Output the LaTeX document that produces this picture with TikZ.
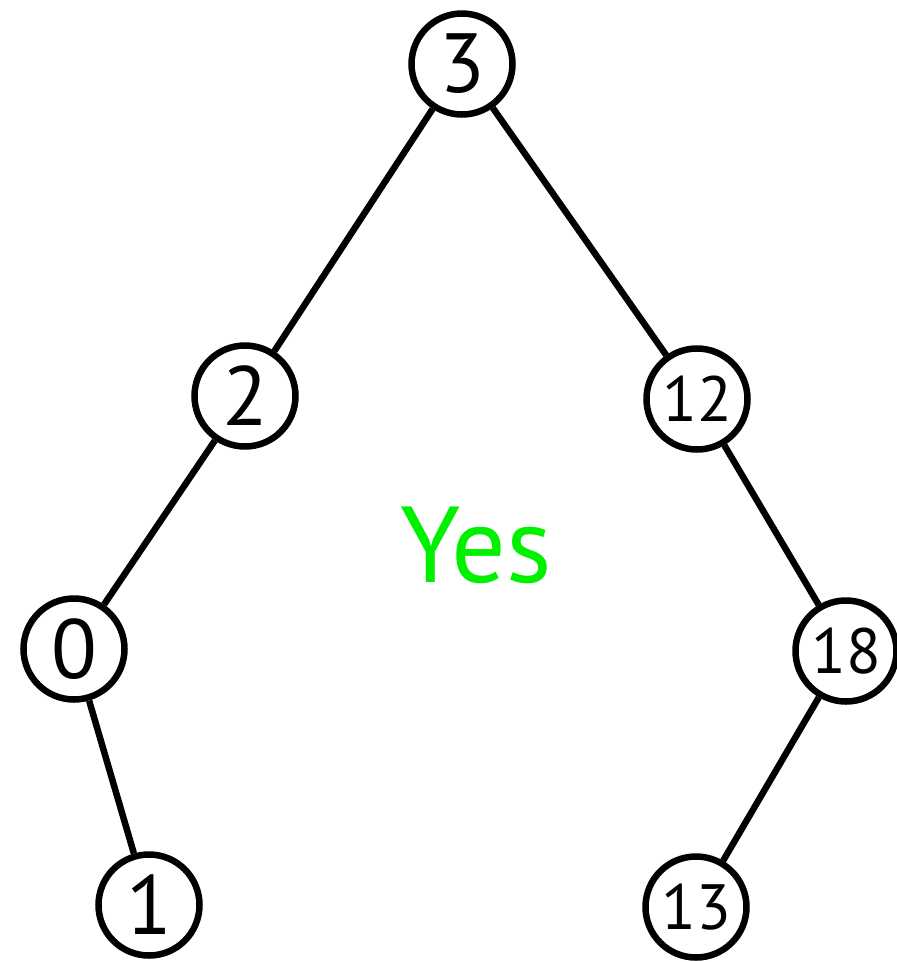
\documentclass[tikz,border=0pt]{standalone}
\usepackage{fontspec}
\setmainfont{PT Sans}
\usepackage{tikz}
\definecolor{yesgreen}{RGB}{0,240,0}

\begin{document}
\begin{tikzpicture}[
    x=1pt, y=-1pt,
    vertex/.style={draw, circle, line width=6.5pt, minimum size=101pt, inner sep=0pt, fill=white},
    onedigit/.style={vertex, font=\fontsize{84}{90}\selectfont},
    twodigit/.style={vertex, font=\fontsize{64}{70}\selectfont},
    edge/.style={line width=6.5pt, draw=black}
]
\useasboundingbox (0,0) rectangle (897,962);
\node[onedigit] (three) at (462,64) {3};
\node[onedigit] (two) at (245,396) {2};
\node[twodigit] (twelve) at (697,399) {12};
\node[onedigit] (zero) at (74,649) {0};
\node[twodigit] (eighteen) at (846,651) {18};
\node[onedigit] (one) at (149,905) {1};
\node[twodigit] (thirteen) at (696,907) {13};
\node[text=yesgreen, font=\fontsize{108}{120}\selectfont] (answer) at (476,545) {Yes};

\draw[edge] (three) -- (two);
\draw[edge] (three) -- (twelve);
\draw[edge] (two) -- (zero);
\draw[edge] (zero) -- (one);
\draw[edge] (twelve) -- (eighteen);
\draw[edge] (eighteen) -- (thirteen);
\end{tikzpicture}
\end{document}
